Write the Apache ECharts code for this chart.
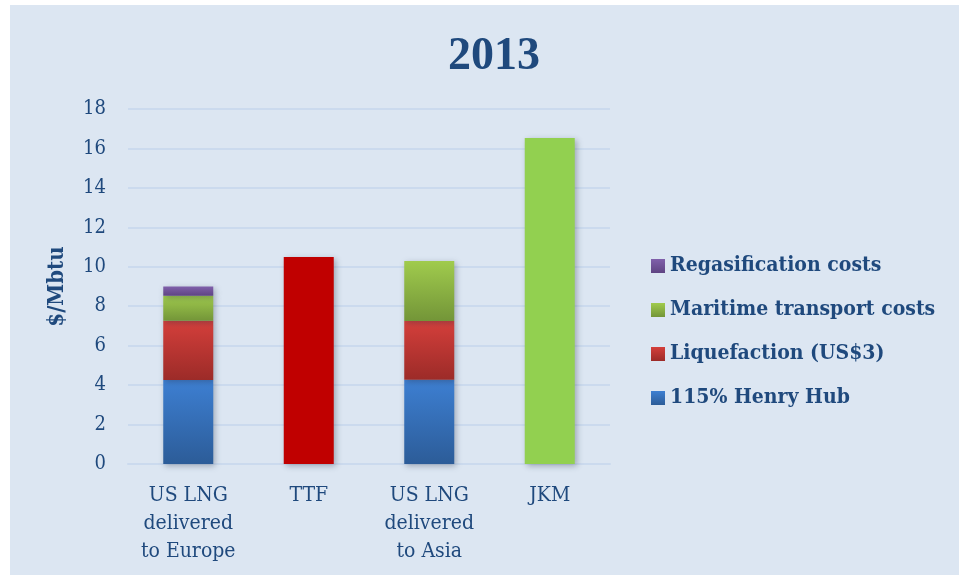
<!DOCTYPE html>
<html>
<head>
<meta charset="utf-8">
<script src="https://cdn.jsdelivr.net/npm/echarts@6/dist/echarts.min.js"></script>
<style>
  html, body { margin: 0; padding: 0; background: #ffffff; }
  #wrap { position: relative; width: 959px; height: 575px; }
  #panel { position: absolute; left: 10px; top: 5px; right: 0; bottom: 0; background: #dce6f2; }
  #main { position: absolute; left: 0; top: 0; width: 959px; height: 575px; }
</style>
</head>
<body>
<div id="wrap">
  <div id="panel"></div>
  <div id="main"></div>
</div>
<script>
var categories = [
  "US LNG\ndelivered\nto Europe",
  "TTF",
  "US LNG\ndelivered\nto Asia",
  "JKM",
];
var henryHub = [4.26, null, 4.27, null];
var liquefaction = [3.0, null, 2.98, null];
var maritime = [1.27, null, 3.04, null];
var regas = [0.47, null, null, null];
var ttf = [null, 10.5, null, null];
var jkm = [null, null, null, 16.53];
var yTicks = { min: 0, max: 18, interval: 2 };
var legendNames = [
  "Regasification costs",
  "Maritime transport costs",
  "Liquefaction (US$3)",
  "115% Henry Hub",
];

var textColor = "#1f497d";
var serif = "'DejaVu Serif Condensed', 'DejaVu Serif', serif";
var titleFont = "'Liberation Serif', serif";

function vGrad(top, bottom) {
  return new echarts.graphic.LinearGradient(0, 0, 0, 1, [
    { offset: 0, color: top },
    { offset: 1, color: bottom },
  ]);
}

var barShadow = {
  shadowBlur: 6,
  shadowColor: "rgba(40, 50, 70, 0.35)",
  shadowOffsetX: 2,
  shadowOffsetY: 2,
};

function stackSeries(name, data, color) {
  return {
    name: name,
    type: "bar",
    stack: "total",
    barWidth: 50,
    data: data,
    itemStyle: Object.assign({ color: color }, barShadow),
  };
}

var chart = echarts.init(document.getElementById("main"), null, { renderer: "canvas" });

var option = {
  animation: false,
  title: {
    text: "2013",
    left: 489,
    top: 29,
    textAlign: "center",
    textStyle: {
      color: textColor,
      fontFamily: titleFont,
      fontWeight: "bold",
      fontSize: 46,
    },
  },
  legend: {
    orient: "vertical",
    left: 646,
    top: 249,
    itemWidth: 14,
    itemHeight: 14,
    itemGap: 20,
    icon: "rect",
    data: legendNames,
    textStyle: {
      color: textColor,
      fontFamily: serif,
      fontWeight: "bold",
      fontSize: 21,
      lineHeight: 24,
    },
  },
  grid: {
    left: 128,
    right: 349,
    top: 109,
    bottom: 111,
  },
  xAxis: {
    type: "category",
    data: categories,
    axisTick: { show: false },
    axisLine: { show: true, lineStyle: { color: "#cbdaee", width: 2 } },
    axisLabel: {
      color: textColor,
      fontFamily: serif,
      fontSize: 21,
      lineHeight: 28,
      margin: 18,
      interval: 0,
    },
  },
  yAxis: {
    type: "value",
    min: yTicks.min,
    max: yTicks.max,
    interval: yTicks.interval,
    name: "$/Mbtu",
    nameLocation: "middle",
    nameGap: 60,
    nameTextStyle: {
      color: textColor,
      fontFamily: serif,
      fontWeight: "bold",
      fontSize: 22,
    },
    axisLine: { show: false },
    axisTick: { show: false },
    axisLabel: {
      color: textColor,
      fontFamily: serif,
      fontSize: 20,
      margin: 22,
    },
    splitLine: { lineStyle: { color: "#cbdaee", width: 2 } },
  },
  series: [
    stackSeries("115% Henry Hub", henryHub, vGrad("#3d7fd2", "#2c5c98")),
    stackSeries("Liquefaction (US$3)", liquefaction, vGrad("#d43f3b", "#9c2b28")),
    stackSeries("Maritime transport costs", maritime, vGrad("#a0cb4d", "#739538")),
    stackSeries("Regasification costs", regas, vGrad("#8060ab", "#5f4483")),
    stackSeries("TTF", ttf, "#c00000"),
    stackSeries("JKM", jkm, "#92d050"),
  ],
};

chart.setOption(option);
</script>
</body>
</html>
